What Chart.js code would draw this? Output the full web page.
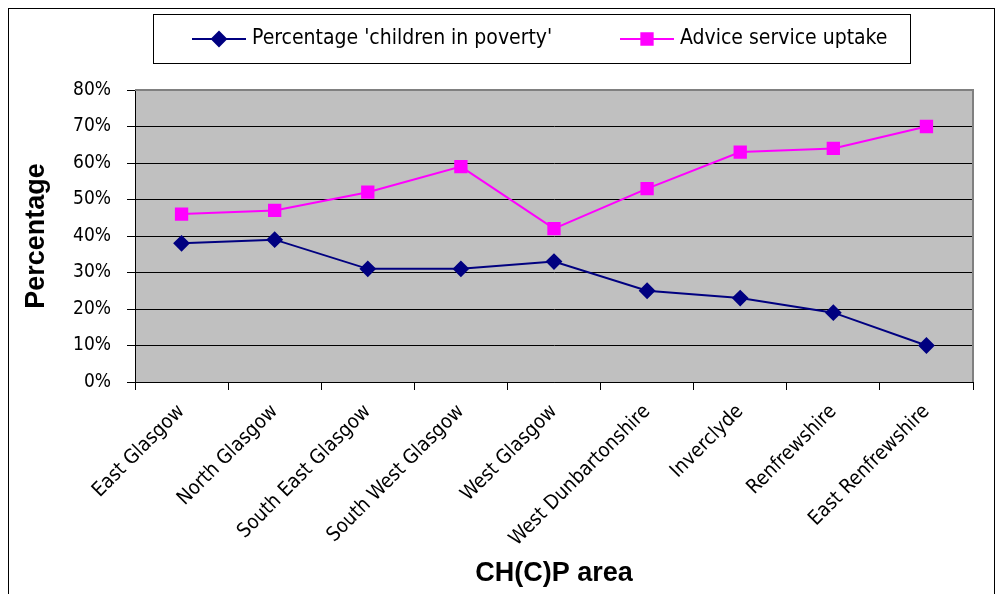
<!DOCTYPE html>
<html>
<head>
<meta charset="utf-8">
<script src="https://cdn.jsdelivr.net/npm/chart.js@4"></script>
<style>
  html, body { margin: 0; padding: 0; background: #fff; }
  #wrap { width: 997px; height: 594px; }
</style>
</head>
<body>
<div id="wrap"><canvas id="grafico" width="997" height="594"></canvas></div>
<script>
const areas = ['East Glasgow', 'North Glasgow', 'South East Glasgow', 'South West Glasgow', 'West Glasgow',
  'West Dunbartonshire', 'Inverclyde', 'Renfrewshire', 'East Renfrewshire'];
const poverty = [38, 39, 31, 31, 33, 25, 23, 19, 10];
const uptake = [46, 47, 52, 59, 42, 53, 63, 64, 70];
const yTicks = [0, 10, 20, 30, 40, 50, 60, 70, 80];

const narrow = "'Liberation Sans Narrow', 'Arial Narrow', 'DejaVu Sans Condensed', sans-serif";
const bold = "'Liberation Sans', Arial, sans-serif";

// sfondo grigio, cornice esterna e legenda
const cornice = {
  id: 'cornice',
  beforeDraw(chart) {
    const c = chart.ctx, a = chart.chartArea;
    c.save();
    c.fillStyle = '#fff';
    c.fillRect(0, 0, chart.width, chart.height);
    c.strokeStyle = '#000';
    c.lineWidth = 1;
    c.strokeRect(8.5, 8.5, 986, 600);
    c.fillStyle = '#c0c0c0';
    c.fillRect(a.left, a.top, a.right - a.left, a.bottom - a.top);
    c.restore();
  },
  afterDatasetsDraw(chart) {
    const c = chart.ctx, a = chart.chartArea;
    c.save();
    c.strokeStyle = '#808080';
    c.lineWidth = 2;
    c.beginPath();
    c.moveTo(a.left, a.top);
    c.lineTo(a.right, a.top);
    c.lineTo(a.right, a.bottom);
    c.stroke();
    c.restore();
  },
  afterDraw(chart) {
    const c = chart.ctx;
    c.save();
    c.strokeStyle = '#000';
    c.lineWidth = 1;
    c.strokeRect(153.5, 14.5, 757, 49);
    const pos = [192, 620];
    chart.data.datasets.forEach((ds, i) => {
      const x = pos[i], y = 39;
      c.strokeStyle = ds.borderColor;
      c.lineWidth = 2;
      c.beginPath();
      c.moveTo(x, y);
      c.lineTo(x + 54, y);
      c.stroke();
      Chart.helpers.drawPoint(c, { pointStyle: ds.pointStyle, radius: ds.pointRadius, borderWidth: 1 }, x + 27, y);
      c.fillStyle = ds.borderColor;
      c.fill();
      c.fillStyle = '#000';
      c.font = '21px ' + narrow;
      c.textBaseline = 'middle';
      c.fillText(ds.label, x + 60, y);
    });
    c.restore();
  }
};

const ctx = document.getElementById('grafico').getContext('2d');
new Chart(ctx, {
  type: 'line',
  data: {
    labels: areas,
    datasets: [{
      label: "Percentage 'children in poverty'",
      data: poverty,
      borderColor: '#000080',
      backgroundColor: '#000080',
      borderWidth: 2,
      pointStyle: 'rectRot',
      pointRadius: 7,
      pointHoverRadius: 7
    }, {
      label: 'Advice service uptake',
      data: uptake,
      borderColor: '#ff00ff',
      backgroundColor: '#ff00ff',
      borderWidth: 2,
      pointStyle: 'rect',
      pointRadius: 8,
      pointHoverRadius: 8
    }]
  },
  options: {
    responsive: false,
    animation: false,
    layout: { padding: { top: 90, left: 20, right: 24, bottom: 2 } },
    scales: {
      x: {
        offset: true,
        afterFit(s) { s.height = 210; },
        grid: { offset: true, drawOnChartArea: false, color: '#000', tickLength: 8 },
        border: { color: '#000', width: 1 },
        ticks: {
          color: '#000',
          font: { family: narrow, size: 20 },
          minRotation: 45,
          maxRotation: 45,
          autoSkip: false,
          padding: 10
        },
        title: {
          display: true,
          text: 'CH(C)P area',
          color: '#000',
          font: { family: bold, size: 27, weight: 'bold' },
          padding: { top: 0, bottom: 2 }
        }
      },
      y: {
        min: 0,
        max: 80,
        afterFit(s) { s.width = 115; },
        afterBuildTicks(s) { s.ticks = yTicks.map(v => ({ value: v })); },
        grid: { color: '#000', tickLength: 8 },
        border: { color: '#000', width: 1 },
        ticks: {
          color: '#000',
          font: { family: narrow, size: 19 },
          padding: 16,
          callback: v => v + '%'
        },
        title: {
          display: true,
          text: 'Percentage',
          color: '#000',
          font: { family: bold, size: 27, weight: 'bold' },
          padding: { top: 0, bottom: 0 }
        }
      }
    },
    plugins: {
      legend: { display: false },
      tooltip: { enabled: false }
    }
  },
  plugins: [cornice]
});
</script>
</body>
</html>
